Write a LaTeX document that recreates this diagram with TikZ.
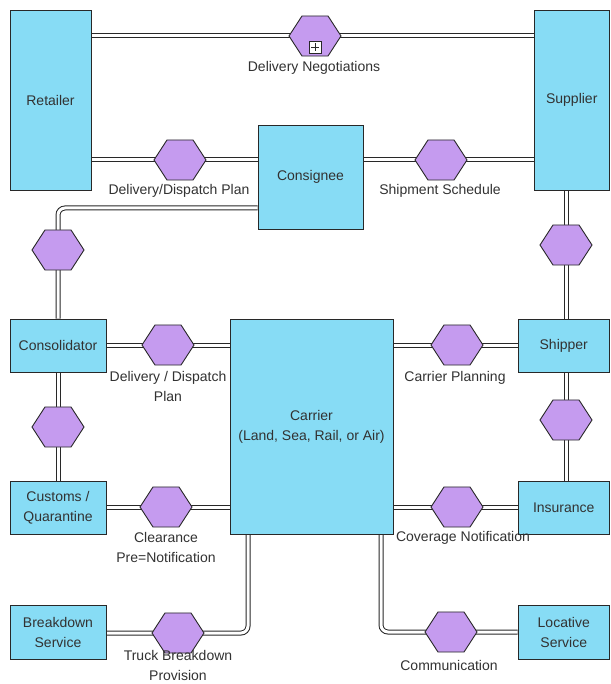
\documentclass[tikz,border=0pt]{standalone}
\usepackage{fontspec}
\setmainfont{Liberation Sans}
\usetikzlibrary{shapes.geometric,backgrounds}
\definecolor{boxblue}{RGB}{135,220,245}
\definecolor{hexpurple}{RGB}{197,155,239}
\definecolor{edgecol}{RGB}{40,40,40}
\definecolor{txt}{RGB}{50,50,50}
\begin{document}
\begin{tikzpicture}[x=1pt,y=-1pt,
  box/.style={draw=edgecol, fill=boxblue, line width=0.9pt, align=center, text=txt, inner sep=0pt, font=\fontsize{14}{20}\selectfont},
  hex/.style={regular polygon, regular polygon sides=6, draw=edgecol, fill=hexpurple, line width=0.9pt, minimum size=52pt, inner sep=0pt, yscale=0.89, transform shape},
  lbl/.style={align=center, text=txt, inner sep=0pt, font=\fontsize{14}{20}\selectfont},
  conn/.style={draw=white, line width=3pt, rounded corners=7pt, preaction={draw=edgecol, line width=5pt}}]
\useasboundingbox (0,0) rectangle (610,684);
% boxes
\node[box, minimum width=81pt, minimum height=180pt] (retailer) at (50.5,100) {Retailer};
\node[box, minimum width=75.5pt, minimum height=180pt] (supplier) at (571.75,100) {Supplier};
\node[box, minimum width=105pt, minimum height=104pt] (consignee) at (310.5,177) {Consignee};
\node[box, minimum width=96pt, minimum height=53pt] (consolidator) at (58,345.5) {Consolidator};
\node[box, minimum width=91.5pt, minimum height=53pt] (shipper) at (563.75,345.5) {Shipper};
\node[box, minimum width=163pt, minimum height=215pt] (carrier) at (311.5,426.5) {Carrier\\(Land, Sea, Rail, or Air)};
\node[box, minimum width=96pt, minimum height=53pt] (customs) at (58,507.5) {Customs /\\Quarantine};
\node[box, minimum width=91.5pt, minimum height=53pt] (insurance) at (563.75,507.5) {Insurance};
\node[box, minimum width=96pt, minimum height=54pt] (breakdown) at (58,632) {Breakdown\\Service};
\node[box, minimum width=91.5pt, minimum height=54pt] (locative) at (563.75,632) {Locative\\Service};
% hexagons
\node[hex] (h1) at (315,36) {};
\node[hex] (h2) at (180,160) {};
\node[hex] (h3) at (441,160) {};
\node[hex] (h4) at (58,250) {};
\node[hex] (h5) at (566,245) {};
\node[hex] (h6) at (168,345) {};
\node[hex] (h7) at (457,345) {};
\node[hex] (h8) at (58,427) {};
\node[hex] (h9) at (566,420) {};
\node[hex] (h10) at (166,507) {};
\node[hex] (h11) at (457,507) {};
\node[hex] (h12) at (178,633) {};
\node[hex] (h13) at (451,632) {};
% plus marker
\node[draw=edgecol, fill=white, line width=0.8pt, minimum size=12pt, inner sep=0pt] (pl) at (315,47) {};
\draw[edgecol, line width=0.8pt] ([xshift=-4pt]pl.center) -- ([xshift=4pt]pl.center);
\draw[edgecol, line width=0.8pt] ([yshift=-4pt]pl.center) -- ([yshift=4pt]pl.center);
% corner coordinates
\coordinate (c1) at (58,208);
\coordinate (c2) at (248,633);
\coordinate (c3) at (381,632);
% connectors
\begin{scope}[on background layer]
\fill[white] (0,0) rectangle (610,684);
\draw[conn] (retailer.east |- h1) -- (supplier.west |- h1);
\draw[conn] (retailer.east |- h2) -- (consignee.west |- h2);
\draw[conn] (consignee.east |- h3) -- (supplier.west |- h3);
\draw[conn] (consignee.west |- c1) -- (c1) -- (consolidator.north);
\draw[conn] (supplier.south -| h5) -- (shipper.north -| h5);
\draw[conn] (consolidator.east |- h6) -- (carrier.west |- h6);
\draw[conn] (carrier.east |- h7) -- (shipper.west |- h7);
\draw[conn] (consolidator.south) -- (customs.north);
\draw[conn] (shipper.south -| h9) -- (insurance.north -| h9);
\draw[conn] (customs.east |- h10) -- (carrier.west |- h10);
\draw[conn] (carrier.east |- h11) -- (insurance.west |- h11);
\draw[conn] (carrier.south -| c2) -- (c2) -- (breakdown.east |- c2);
\draw[conn] (carrier.south -| c3) -- (c3) -- (locative.west |- c3);
\end{scope}
% labels
\node[lbl] (l1) at (314,68) {Delivery Negotiations};
\node[lbl] (l2) at (179,191) {Delivery/Dispatch Plan};
\node[lbl] (l3) at (440,191) {Shipment Schedule};
\node[lbl] (l6) at (168,386) {Delivery / Dispatch\\Plan};
\node[lbl] (l7) at (455,378) {Carrier Planning};
\node[lbl] (l10) at (166,547.5) {Clearance\\Pre=Notification};
\node[lbl] (l11) at (463,538) {Coverage Notification};
\node[lbl] (l12) at (178,665.5) {Truck Breakdown\\Provision};
\node[lbl] (l13) at (449,665) {Communication};
\end{tikzpicture}
\end{document}
